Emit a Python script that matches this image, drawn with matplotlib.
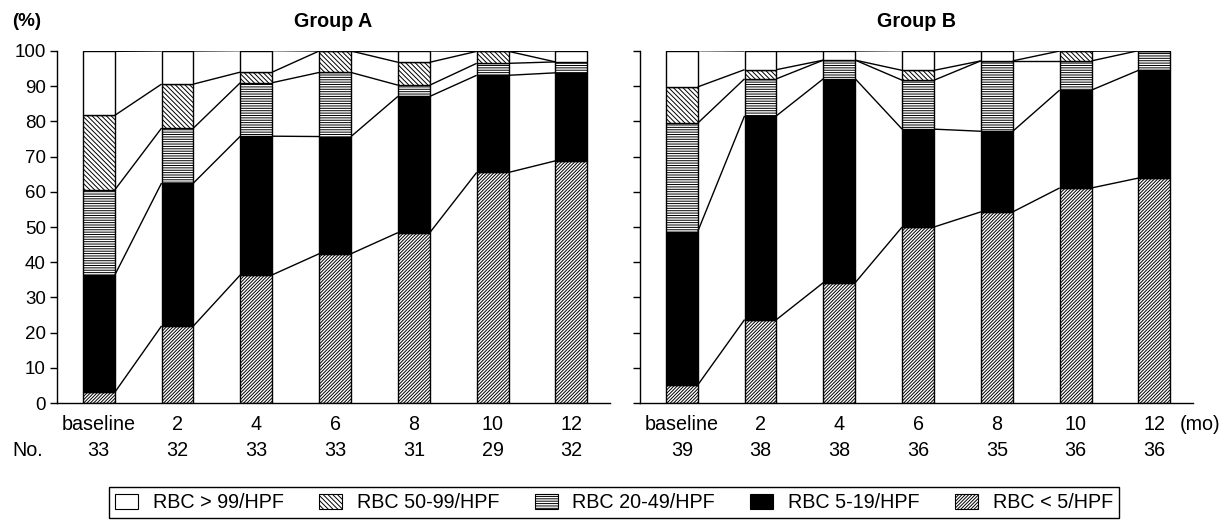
import matplotlib
matplotlib.use("Agg")
import matplotlib.pyplot as plt
from matplotlib.patches import Patch
import numpy as np

plt.rcParams['font.family'] = ['Liberation Sans', 'DejaVu Sans']
plt.rcParams['hatch.linewidth'] = 0.7

timepoints = ["baseline", "2", "4", "6", "8", "10", "12"]
categories = ["RBC > 99/HPF", "RBC 50-99/HPF", "RBC 20-49/HPF", "RBC 5-19/HPF", "RBC < 5/HPF"]

# Group A (% of patients)
a_lt5 = [3.0, 21.9, 36.4, 42.4, 48.4, 65.5, 68.8]
a_5_19 = [33.3, 40.6, 39.4, 33.3, 38.7, 27.6, 25.0]
a_20_49 = [24.2, 15.6, 15.2, 18.2, 3.2, 3.4, 3.1]
a_50_99 = [21.2, 12.5, 3.0, 6.1, 6.5, 3.4, 0.0]
a_gt99 = [18.2, 9.4, 6.1, 0.0, 3.2, 0.0, 3.1]
a_n = [33, 32, 33, 33, 31, 29, 32]

# Group B (% of patients)
b_lt5 = [5.1, 23.7, 34.2, 50.0, 54.3, 61.1, 63.9]
b_5_19 = [43.6, 57.9, 57.9, 27.8, 22.9, 27.8, 30.6]
b_20_49 = [30.8, 10.5, 5.3, 13.9, 20.0, 8.3, 5.6]
b_50_99 = [10.3, 2.6, 0.0, 2.8, 0.0, 2.8, 0.0]
b_gt99 = [10.3, 5.3, 2.6, 5.6, 2.9, 0.0, 0.0]
b_n = [39, 38, 38, 36, 35, 36, 36]

# styles bottom -> top
styles = [
    dict(facecolor="white", hatch="//////////"),     # <5
    dict(facecolor="black", hatch=None),             # 5-19
    dict(facecolor="white", hatch="-------"),        # 20-49
    dict(facecolor="white", hatch="\\\\\\\\\\\\\\"),  # 50-99
    dict(facecolor="white", hatch=None),             # >99
]

FS = 13.5
FS2 = 14.2
W = 0.405

fig = plt.figure(figsize=(12.22, 5.22), dpi=100)
axA = fig.add_axes([57/1222, 119/522, 553/1222, 352/522])
axB = fig.add_axes([640/1222, 119/522, 553/1222, 352/522])


def draw(ax, series, counts, title, show_labels):
    x = np.arange(len(timepoints))
    bottom = np.zeros(len(timepoints))
    tops = []
    for vals, st in zip(series, styles):
        v = np.array(vals, dtype=float)
        ax.bar(x, v, W, bottom=bottom, facecolor=st["facecolor"], hatch=st["hatch"],
               edgecolor="black", linewidth=1.0, zorder=2)
        bottom = bottom + v
        tops.append(bottom.copy())
    # connector lines
    for t in tops:
        for i in range(len(x) - 1):
            ax.plot([x[i] + W/2, x[i+1] - W/2], [t[i], t[i+1]], color="black",
                    lw=1.0, zorder=3, solid_capstyle="butt")
    ax.set_xlim(-0.53, 6.49)
    ax.set_ylim(0, 100)
    ax.set_yticks(np.arange(0, 101, 10))
    ax.tick_params(axis="y", direction="out", length=5, width=1, labelsize=FS, pad=3)
    if not show_labels:
        ax.tick_params(axis="y", labelleft=False)
    ax.set_xticks([])
    for s in ["top", "right"]:
        ax.spines[s].set_visible(False)
    for s in ["left", "bottom"]:
        ax.spines[s].set_linewidth(1.0)
    tr = ax.get_xaxis_transform()
    for xi, lab, n in zip(x, timepoints, counts):
        ax.text(xi, -0.0625, lab, transform=tr, ha="center", va="center", fontsize=FS2)
        ax.text(xi, -0.135, str(n), transform=tr, ha="center", va="center", fontsize=FS2)
    ax.set_title(title, fontsize=FS2, fontweight="bold", pad=17)


draw(axA, [a_lt5, a_5_19, a_20_49, a_50_99, a_gt99], a_n, "Group A", True)
draw(axB, [b_lt5, b_5_19, b_20_49, b_50_99, b_gt99], b_n, "Group B", False)

fig.text(12/1222, 1 - 22/522, "(%)", fontsize=FS, fontweight="bold", ha="left", va="center")
fig.text(12/1222, 1 - 450/522, "No.", fontsize=FS2, ha="left", va="center")
fig.text(1180/1222, 1 - 425/522, "(mo)", fontsize=FS2, ha="left", va="center")

handles = [Patch(facecolor=styles[i]["facecolor"], hatch=styles[i]["hatch"], edgecolor="black", linewidth=0.8)
           for i in [4, 3, 2, 1, 0]]
leg = fig.legend(handles, categories, loc="upper center", bbox_to_anchor=(614/1222, 1 - 487/522),
                 ncol=5, fontsize=FS2, frameon=True, fancybox=False, edgecolor="black",
                 framealpha=1, handlelength=1.16, handleheight=0.8, handletextpad=0.75,
                 columnspacing=1.8, borderpad=0.3, borderaxespad=0)
leg.get_frame().set_linewidth(1.0)

fig.savefig("out.png", dpi=100)
